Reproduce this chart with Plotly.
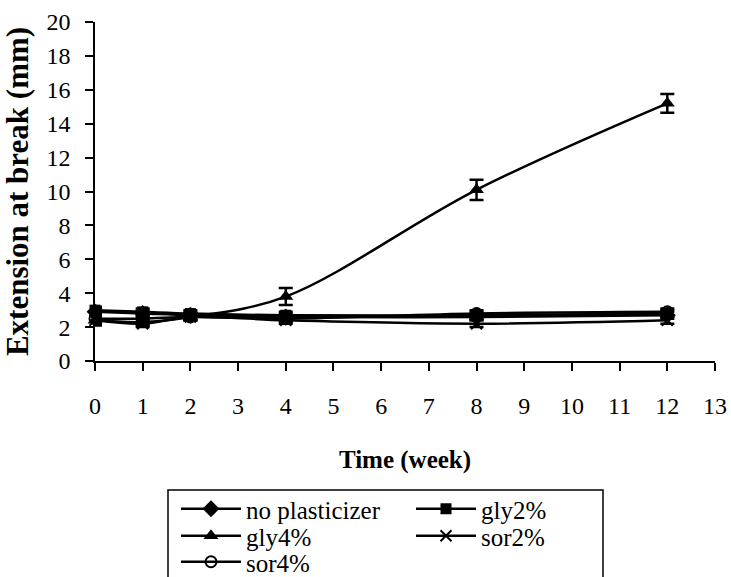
import plotly.graph_objects as go

# Storage time (weeks) and extension at break (mm) for each film formulation
weeks = [0, 1, 2, 4, 8, 12]
no_plasticizer = [2.9, 2.8, 2.7, 2.6, 2.6, 2.7]
no_plasticizer_err = [0.2, 0.2, 0.2, 0.2, 0.2, 0.2]
gly2 = [3.0, 2.9, 2.8, 2.7, 2.7, 2.8]
gly2_err = [0.2, 0.2, 0.2, 0.2, 0.2, 0.2]
gly4 = [2.4, 2.3, 2.6, 3.8, 10.1, 15.2]
gly4_err = [0.3, 0.2, 0.2, 0.5, 0.6, 0.55]
sor2 = [2.4, 2.2, 2.6, 2.4, 2.2, 2.4]
sor2_err = [0.2, 0.2, 0.2, 0.2, 0.2, 0.2]
sor4 = [2.5, 2.5, 2.6, 2.5, 2.8, 2.9]
sor4_err = [0.2, 0.2, 0.2, 0.2, 0.2, 0.2]

x_ticks = list(range(0, 14))
y_ticks = list(range(0, 21, 2))

FONT = "Liberation Serif"

series = [
    ("no plasticizer", no_plasticizer, no_plasticizer_err,
     dict(symbol="diamond", size=13, color="black"), "legend"),
    ("gly2%", gly2, gly2_err,
     dict(symbol="square", size=11, color="black"), "legend"),
    ("gly4%", gly4, gly4_err,
     dict(symbol="triangle-up", size=13, color="black"), "legend2"),
    ("sor2%", sor2, sor2_err,
     dict(symbol="x-thin", size=11, color="black",
          line=dict(color="black", width=2)), "legend2"),
    ("sor4%", sor4, sor4_err,
     dict(symbol="circle-open", size=11, color="black",
          line=dict(color="black", width=2)), "legend3"),
]

fig = go.Figure()
for name, vals, errs, marker, leg in series:
    fig.add_trace(go.Scatter(
        x=weeks, y=vals, name=name, mode="lines+markers",
        line=dict(color="black", width=2.5, shape="spline", smoothing=1),
        marker=marker,
        error_y=dict(type="data", array=errs, color="black",
                     thickness=2.5, width=7),
        cliponaxis=False,
        legend=leg,
    ))

axis_common = dict(
    showline=True, linecolor="black", linewidth=1.5,
    ticks="outside", ticklen=8, tickwidth=1.5, tickcolor="black",
    showgrid=False, zeroline=False,
    tickfont=dict(family=FONT, size=24, color="black"),
)

# one legend per row, so the row spacing can be set tightly
legend_common = dict(
    orientation="h", entrywidth=160, entrywidthmode="pixels",
    itemwidth=60, xanchor="left", yanchor="middle",
    x=(176 - 95) / 620, bgcolor="rgba(0,0,0,0)", borderwidth=0,
    font=dict(family=FONT, size=25, color="black"),
)

fig.update_layout(
    width=731, height=577,
    margin=dict(l=95, r=16, t=22, b=216, autoexpand=False),
    paper_bgcolor="white", plot_bgcolor="white",
    xaxis=dict(range=[0, 13], tickvals=x_ticks, ticklabelstandoff=14,
               title=dict(text="Time (week)", standoff=33,
                          font=dict(family=FONT, size=25, weight="bold",
                                    color="black")),
               **axis_common),
    yaxis=dict(range=[0, 20], tickvals=y_ticks, ticklabelstandoff=10,
               title=dict(text="Extension at break (mm)", standoff=12,
                          font=dict(family=FONT, size=31, weight="bold",
                                    color="black")),
               **axis_common),
    legend=dict(y=(361 - 509) / 339, **legend_common),
    legend2=dict(y=(361 - 536) / 339, **legend_common),
    legend3=dict(y=(361 - 562) / 339, **legend_common),
    shapes=[dict(type="rect", xref="paper", yref="paper",
                 x0=(168 - 95) / 620, x1=(603 - 95) / 620,
                 y0=(361 - 490) / 339, y1=-0.8,
                 line=dict(color="black", width=1.5),
                 fillcolor="rgba(0,0,0,0)", layer="above")],
)

fig.write_html("out.html")
